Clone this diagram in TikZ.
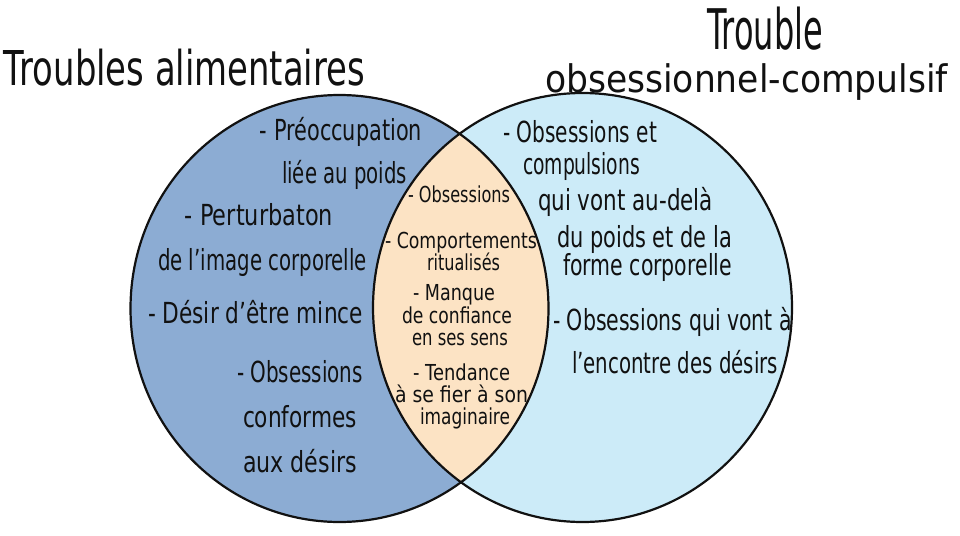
\documentclass[tikz,border=0pt]{standalone}
\usepackage{fontspec}
\setmainfont{DejaVu Sans}
\usepackage{graphicx}
\definecolor{leftblue}{HTML}{8CACD3}
\definecolor{rightblue}{HTML}{CCEBF8}
\definecolor{lenscol}{HTML}{FCE3C4}
\definecolor{ink}{HTML}{111111}
\newcommand\fitw[2]{\resizebox{#1pt}{\height}{#2}}
\begin{document}
\begin{tikzpicture}[x=1pt,y=-1pt,
  txt/.style={anchor=base, inner sep=0pt, text=ink},
  title/.style={txt, font=\fontsize{48}{48}\selectfont},
  body/.style={txt, font=\fontsize{29}{29}\selectfont},
  lenstxt/.style={txt, font=\fontsize{22}{22}\selectfont},
  outline/.style={draw=ink, line width=2.2pt},
  lrad/.style={x radius=209pt, y radius=213.5pt},
  rrad/.style={x radius=209.5pt, y radius=214.5pt}]
\useasboundingbox (0,0) rectangle (960,535);
\fill[white] (0,0) rectangle (960,535);
\coordinate (cl) at (339.5,308.5);
\coordinate (cr) at (582.5,307.5);
% fills
\fill[leftblue] (cl) ellipse [lrad];
\fill[rightblue] (cr) ellipse [rrad];
\begin{scope}
  \clip (cl) ellipse [lrad];
  \fill[lenscol] (cr) ellipse [rrad];
\end{scope}
\draw[outline] (cl) ellipse [lrad];
\draw[outline] (cr) ellipse [rrad];
% titles
\node[title] (t1) at (184.5,85) {\fitw{361}{Troubles alimentaires}};
\node[title, font=\fontsize{56}{56}\selectfont] (t2) at (765,50) {\fitw{116}{Trouble}};
\node[title, font=\fontsize{38}{38}\selectfont] (t3) at (746.5,92) {\fitw{403}{obsessionnel-compulsif}};
% left circle
\node[body] (a1) at (341,140) {\fitw{162}{- Préoccupation}};
\node[body] (a2) at (344.5,183) {\fitw{125}{liée au poids}};
\node[body] (a3) at (259,225) {\fitw{148}{- Perturbaton}};
\node[body] (a4) at (262.5,270) {\fitw{209}{de l'image corporelle}};
\node[body] (a5) at (255.5,323) {\fitw{215}{- Désir d'être mince}};
\node[body] (a6) at (300,382) {\fitw{126}{- Obsessions}};
\node[body] (a7) at (300,427) {\fitw{114}{conformes}};
\node[body] (a8) at (300,472) {\fitw{114}{aux désirs}};
% lens
\node[lenstxt] (b1) at (459,202) {\fitw{102}{- Obsessions}};
\node[lenstxt] (b2) at (461,248) {\fitw{152}{- Comportements}};
\node[lenstxt] (b3) at (463.5,270) {\fitw{73}{ritualisés}};
\node[lenstxt] (b4) at (454,300) {\fitw{82}{- Manque}};
\node[lenstxt] (b5) at (457,323) {\fitw{110}{de confiance}};
\node[lenstxt] (b6) at (460,345) {\fitw{96}{en ses sens}};
\node[lenstxt] (b7) at (461.5,380) {\fitw{97}{- Tendance}};
\node[lenstxt] (b8) at (461.5,402) {\fitw{133}{à se fier à son}};
\node[lenstxt] (b9) at (465,424) {\fitw{90}{imaginaire}};
% right circle
\node[body] (c1) at (580,142) {\fitw{154}{- Obsessions et}};
\node[body] (c2) at (581.5,174) {\fitw{117}{compulsions}};
\node[body] (c3) at (625.5,210) {\fitw{175}{qui vont au-delà}};
\node[body] (c4) at (644.5,247) {\fitw{175}{du poids et de la}};
\node[body] (c5) at (647.5,275) {\fitw{169}{forme corporelle}};
\node[body] (c6) at (672.5,330) {\fitw{239}{- Obsessions qui vont à}};
\node[body] (c7) at (675,373) {\fitw{206}{l'encontre des désirs}};
\end{tikzpicture}
\end{document}
